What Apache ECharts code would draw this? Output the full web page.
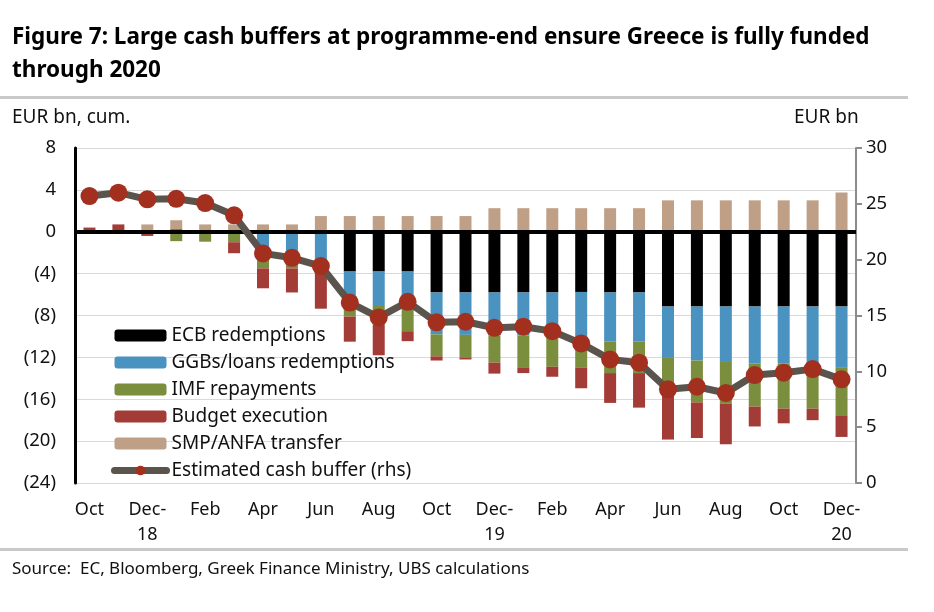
<!DOCTYPE html>
<html>
<head>
<meta charset="utf-8">
<script src="https://cdn.jsdelivr.net/npm/echarts@6/dist/echarts.min.js"></script>
<style>
html,body{margin:0;padding:0;background:#fff;}
#chart{width:934px;height:612px;}
</style>
</head>
<body>
<div id="chart"></div>
<script>
const categories = ['Oct','Nov','Dec-\n18','Jan','Feb','Mar','Apr','May','Jun','Jul','Aug','Sep','Oct','Nov','Dec-\n19','Jan','Feb','Mar','Apr','May','Jun','Jul','Aug','Sep','Oct','Nov','Dec-\n20'];
const ecbRedemptions = [0,0,0,0,0,0,0,0,0,-3.8,-3.8,-3.8,-5.8,-5.8,-5.8,-5.8,-5.8,-5.75,-5.8,-5.8,-7.15,-7.15,-7.15,-7.15,-7.15,-7.15,-7.15];
const ggbRedemptions = [0,0,0,0,0,0,-2.7,-2.6,-3.1,-3.3,-3.2,-3.3,-4.0,-4.05,-4.1,-4.1,-4.3,-4.75,-4.7,-4.7,-4.9,-5.15,-5.2,-5.45,-5.45,-5.45,-5.85];
const imfRepayments = [0,0,-0.2,-0.9,-0.95,-1.0,-0.8,-0.9,-0.7,-1.0,-1.9,-2.4,-2.1,-2.15,-2.6,-3.05,-2.8,-2.5,-3.0,-3.0,-3.35,-4.0,-4.05,-4.1,-4.3,-4.3,-4.6];
const budgetExecution = [0.4,0.7,-0.2,0.25,0,-1.05,-1.9,-2.3,-3.55,-2.4,-2.9,-0.95,-0.4,-0.2,-1.05,-0.55,-0.95,-1.95,-2.85,-3.3,-4.45,-3.4,-3.9,-1.9,-1.4,-1.1,-2.0];
const smpAnfaTransfer = [0,0,0.7,0.85,0.7,0.7,0.7,0.7,1.5,1.5,1.5,1.5,1.5,1.5,2.25,2.25,2.25,2.25,2.25,2.25,3.0,3.0,3.0,3.0,3.0,3.0,3.75];
const cashBuffer = [25.7,26.0,25.4,25.45,25.07,23.97,20.56,20.17,19.43,16.16,14.83,16.23,14.39,14.44,13.9,14.0,13.6,12.5,11.07,10.77,8.39,8.62,8.06,9.67,9.88,10.2,9.28];
const leftTicks = {min:-24, max:8, interval:4};
const rightTicks = {min:0, max:30, interval:5};

const FONT = "'Noto Sans', sans-serif";
const chart = echarts.init(document.getElementById('chart'), null, {renderer:'canvas'});

function barSeries(name, data, color, extra) {
  return Object.assign({
    name: name, type: 'bar', stack: 'total', data: data, barWidth: 12,
    itemStyle: {color: color}, yAxisIndex: 0
  }, extra || {});
}

const option = {
  animation: false,
  backgroundColor: '#ffffff',
  textStyle: {fontFamily: FONT},
  grid: {left: 75, right: 78, top: 148, bottom: 129, containLabel: false},
  legend: {
    left: 111, top: 326, orient: 'vertical', padding: 0,
    itemWidth: 52, itemHeight: 12, itemGap: 8,
    textStyle: {fontFamily: FONT, fontSize: 19, color: '#111'},
    data: ['ECB redemptions','GGBs/loans redemptions','IMF repayments','Budget execution','SMP/ANFA transfer',
      {name: 'Estimated cash buffer (rhs)', lineStyle: {width: 7, cap: 'round', color: '#5a544d'}, itemStyle: {color: '#a3301f'}}]
  },
  xAxis: {
    type: 'category', data: categories,
    axisLine: {show: false, onZero: false},
    axisTick: {show: false},
    axisLabel: {interval: 1, fontSize: 18, color: '#111', margin: 14, lineHeight: 25, fontFamily: FONT},
    splitLine: {show: false}
  },
  yAxis: [
    {
      type: 'value', min: leftTicks.min, max: leftTicks.max, interval: leftTicks.interval,
      axisLine: {show: true, lineStyle: {color: '#000', width: 3}},
      axisTick: {show: false},
      axisLabel: {fontSize: 18.5, color: '#111', margin: 19, fontFamily: FONT,
        formatter: v => v < 0 ? '(' + Math.abs(v) + ')' : String(v)},
      splitLine: {show: true, lineStyle: {color: '#d9d9d9', width: 1}}
    },
    {
      type: 'value', min: rightTicks.min, max: rightTicks.max, interval: rightTicks.interval,
      position: 'right',
      axisLine: {show: true, lineStyle: {color: '#8c8c8c', width: 2}},
      axisTick: {show: true, inside: false, length: 6, lineStyle: {color: '#8c8c8c', width: 2}},
      axisLabel: {fontSize: 18.5, color: '#111', margin: 10, fontFamily: FONT},
      splitLine: {show: false}
    }
  ],
  series: [
    barSeries('ECB redemptions', ecbRedemptions, '#000000'),
    barSeries('GGBs/loans redemptions', ggbRedemptions, '#4a92bf'),
    barSeries('IMF repayments', imfRepayments, '#7a8e3e'),
    barSeries('Budget execution', budgetExecution, '#a33c36'),
    barSeries('SMP/ANFA transfer', smpAnfaTransfer, '#bfa087', {
      markLine: {
        silent: true, symbol: 'none', animation: false,
        label: {show: false},
        lineStyle: {color: '#000', width: 4, type: 'solid'},
        data: [{yAxis: 0}]
      }
    }),
    {
      name: 'Estimated cash buffer (rhs)', type: 'line', yAxisIndex: 1, data: cashBuffer,
      z: 5,
      lineStyle: {color: '#5a544d', width: 7},
      itemStyle: {color: '#a3301f', borderColor: '#a3301f', borderWidth: 0},
      symbol: 'circle', symbolSize: 18
    }
  ],
  graphic: [
    {type: 'text', left: 12, top: 21, style: {text: 'Figure 7: Large cash buffers at programme-end ensure Greece is fully funded\nthrough 2020', fontFamily: FONT, fontSize: 22.5, fontWeight: 'bold', fill: '#000', lineHeight: 33}},
    {type: 'rect', shape: {x: 0, y: 96, width: 908, height: 3}, style: {fill: '#c9c9c9'}},
    {type: 'text', left: 12, top: 108, style: {text: 'EUR bn, cum.', fontFamily: FONT, fontSize: 19, fill: '#111'}},
    {type: 'text', left: 794, top: 108, style: {text: 'EUR bn', fontFamily: FONT, fontSize: 19, fill: '#111'}},
    {type: 'rect', shape: {x: 0, y: 548, width: 908, height: 3}, style: {fill: '#c9c9c9'}},
    {type: 'text', left: 12, top: 561, style: {text: 'Source:  EC, Bloomberg, Greek Finance Ministry, UBS calculations', fontFamily: FONT, fontSize: 17, fill: '#111'}}
  ]
};
chart.setOption(option);
</script>
</body>
</html>
